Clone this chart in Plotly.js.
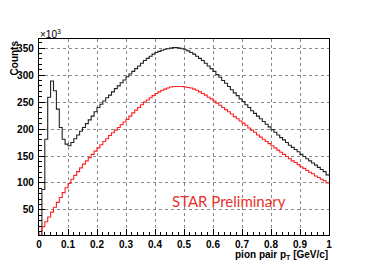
<!DOCTYPE html>
<html>
<head>
<meta charset="utf-8">
<script src="https://cdn.plot.ly/plotly-3.0.1.min.js"></script>
<style>html,body{margin:0;padding:0;background:#fff;}#chart{width:368px;height:276px;}</style>
</head>
<body>
<div id="chart"></div>
<script>
// Histogram binning: 100 bins of 0.01 GeV/c from 0 to 1
const binLow = 0.0;
const binWidth = 0.01;

// Counts (x10^3) per bin, black histogram
const blackCounts = [
  3, 88, 181, 259, 289, 271, 237, 203, 181, 172,
  169, 175, 182, 189, 196, 203, 210, 217, 224, 232,
  240, 246, 252, 258, 263, 269, 275, 280, 286, 291,
  297, 302, 307, 312, 317, 322, 327, 331, 335, 339,
  342, 344, 346, 348, 349, 350, 351, 351, 350, 349,
  347, 345, 342, 339, 335, 331, 327, 322, 317, 312,
  307, 301, 296, 290, 285, 279, 273, 267, 262, 256,
  251, 245, 240, 234, 229, 224, 219, 214, 209, 204,
  199, 194, 189, 184, 180, 175, 170, 166, 162, 158,
  153, 149, 145, 141, 137, 133, 129, 125, 121, 115
];

// Counts (x10^3) per bin, red histogram
const redCounts = [
  10, 19, 28, 37, 46, 55, 64, 73, 82, 91,
  99, 107, 114, 121, 128, 135, 141, 147, 153, 159,
  165, 171, 177, 182, 188, 193, 198, 203, 208, 213,
  218, 224, 230, 235, 240, 245, 250, 254, 258, 262,
  266, 269, 272, 274, 276, 278, 279, 279, 279, 279,
  278, 277, 276, 274, 272, 269, 266, 263, 259, 256,
  252, 248, 244, 240, 236, 232, 228, 223, 219, 215,
  211, 207, 202, 198, 194, 189, 185, 181, 177, 173,
  169, 165, 161, 157, 153, 149, 145, 141, 138, 134,
  130, 127, 123, 120, 117, 113, 110, 107, 104, 100
];

const xTickVals = [0, 0.1, 0.2, 0.3, 0.4, 0.5, 0.6, 0.7, 0.8, 0.9, 1];
const xTickText = ["0", "0.1", "0.2", "0.3", "0.4", "0.5", "0.6", "0.7", "0.8", "0.9", "1"];
const yTickVals = [50, 100, 150, 200, 250, 300, 350];
const yTickText = ["50", "100", "150", "200", "250", "300", "350"];

function stepXY(counts) {
  const xs = [binLow], ys = [0];
  for (let i = 0; i < counts.length; i++) {
    xs.push(binLow + i * binWidth);
    ys.push(counts[i]);
  }
  xs.push(binLow + counts.length * binWidth);
  ys.push(counts[counts.length - 1]);
  return {xs, ys};
}

const b = stepXY(blackCounts);
const r = stepXY(redCounts);

const traces = [
  {x: b.xs, y: b.ys, type: 'scatter', mode: 'lines', line: {shape: 'hv', color: '#222', width: 1.1}, hoverinfo: 'skip'},
  {x: r.xs, y: r.ys, type: 'scatter', mode: 'lines', line: {shape: 'hv', color: '#ff2020', width: 1.1}, hoverinfo: 'skip'}
];

const tickFont = {family: 'Liberation Sans, Arial, sans-serif', size: 10, color: '#000', weight: 700};

const layout = {
  width: 368, height: 276,
  margin: {l: 39, r: 39, t: 39, b: 41, pad: 0},
  paper_bgcolor: '#fff', plot_bgcolor: '#fff',
  showlegend: false,
  xaxis: {
    range: [0, 1], tickmode: 'array', tickvals: xTickVals, ticktext: xTickText,
    ticks: 'inside', ticklen: 6, tickcolor: '#000', tickwidth: 1,
    minor: {dtick: 0.02, ticks: 'inside', ticklen: 3, tickcolor: '#000', showgrid: false},
    showgrid: true, gridcolor: '#888', griddash: 'dot', gridwidth: 1,
    showline: true, linecolor: '#000', linewidth: 1.2, mirror: true,
    zeroline: false, tickfont: tickFont, ticklabelstandoff: 0
  },
  yaxis: {
    range: [3.5, 367], tickmode: 'array', tickvals: yTickVals, ticktext: yTickText,
    ticks: 'inside', ticklen: 6, tickcolor: '#000', tickwidth: 1,
    minor: {dtick: 10, tick0: 0, ticks: 'inside', ticklen: 3, tickcolor: '#000', showgrid: false},
    showgrid: true, gridcolor: '#888', griddash: 'dot', gridwidth: 1,
    showline: true, linecolor: '#000', linewidth: 1.2, mirror: true,
    zeroline: false, tickfont: tickFont, ticklabelstandoff: 2
  },
  annotations: [
    {xref: 'paper', yref: 'paper', x: 1, y: -0.1, xanchor: 'right', yanchor: 'middle',
     text: 'pion pair p<sub>T</sub> [GeV/c]', showarrow: false, borderpad: 0,
     font: {family: 'Liberation Sans, Arial, sans-serif', size: 10, color: '#000', weight: 700}},
    {xref: 'paper', yref: 'paper', x: -0.083, y: 1.005, xanchor: 'center', yanchor: 'top',
     text: 'Counts', textangle: -90, showarrow: false,
     font: {family: 'Liberation Sans, Arial, sans-serif', size: 10, color: '#000', weight: 700}},
    {xref: 'paper', yref: 'paper', x: -0.005, y: 1.025, xanchor: 'left', yanchor: 'middle',
     text: '×10<sup>3</sup>', showarrow: false,
     font: {family: 'Liberation Sans, Arial, sans-serif', size: 10, color: '#000'}},
    {xref: 'x', yref: 'y', x: 0.655, y: 67, xanchor: 'center', yanchor: 'middle',
     text: 'STAR Preliminary', showarrow: false,
     font: {family: 'Lato, Liberation Sans, sans-serif', size: 15, color: '#e8322b'}}
  ]
};

Plotly.newPlot('chart', traces, layout, {staticPlot: true, displayModeBar: false});
</script>
</body>
</html>
